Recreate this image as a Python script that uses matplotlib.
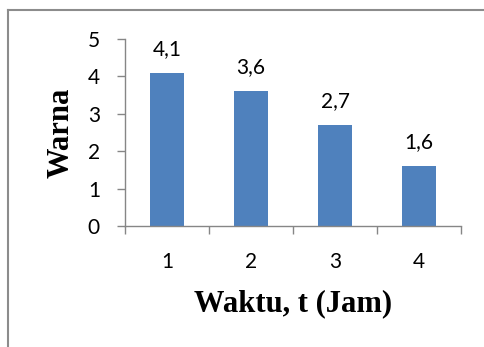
import matplotlib
matplotlib.use("Agg")
import matplotlib.pyplot as plt
from matplotlib.lines import Line2D

# Data
hours = [1, 2, 3, 4]
colour_score = [4.1, 3.6, 2.7, 1.6]
value_labels = ["4,1", "3,6", "2,7", "1,6"]
y_ticks = [0, 1, 2, 3, 4, 5]

W, H = 485, 347
fig = plt.figure(figsize=(W / 100, H / 100), dpi=100)
ax = fig.add_axes([125 / W, 1 - 226 / H, (461 - 125) / W, (226 - 39) / H])

axis_grey = "#868686"
tick_font = dict(family="Lato", size=15)

ax.bar(hours, colour_score, width=0.4, color="#4F81BD", zorder=2)
for x, v, lab in zip(hours, colour_score, value_labels):
    ax.annotate(lab, (x, v), xytext=(0, 13), textcoords="offset points",
                ha="center", va="baseline", color="black", **tick_font)

ax.set_xlim(0.5, 4.5)
ax.set_ylim(0, 5)

# Category boundary ticks on x, labels centred under each bar
ax.set_xticks([0.5, 1.5, 2.5, 3.5, 4.5])
ax.set_xticklabels([])
ax.set_xticks(hours, minor=True)
ax.set_xticklabels([str(h) for h in hours], minor=True, **tick_font)
ax.tick_params(axis="x", which="major", length=6, width=1, color=axis_grey, direction="out")
ax.tick_params(axis="x", which="minor", length=0, pad=19)

ax.set_yticks(y_ticks)
ax.set_yticklabels([str(t) for t in y_ticks], **tick_font)
ax.tick_params(axis="y", length=6, width=1, color=axis_grey, direction="out", pad=12)

for side in ("top", "right"):
    ax.spines[side].set_visible(False)
for side in ("left", "bottom"):
    ax.spines[side].set_color(axis_grey)
    ax.spines[side].set_linewidth(1)

ax.set_xlabel("Waktu, t (Jam)", family="Liberation Serif", fontweight="bold",
              fontsize=22, labelpad=12)
ax.set_ylabel("Warna", family="Liberation Serif", fontweight="bold", fontsize=22,
              va="center")
ax.yaxis.set_label_coords(-0.19, 0.5)

# Chart frame
frame = "#8c8c8c"
x0, y0 = 8 / W, 1 - 10 / H
fig.add_artist(Line2D([x0, x0], [0, y0], color=frame, lw=1.5))
fig.add_artist(Line2D([x0, 1], [y0, y0], color=frame, lw=1.5))

fig.savefig("out.png", dpi=100, facecolor="white")
